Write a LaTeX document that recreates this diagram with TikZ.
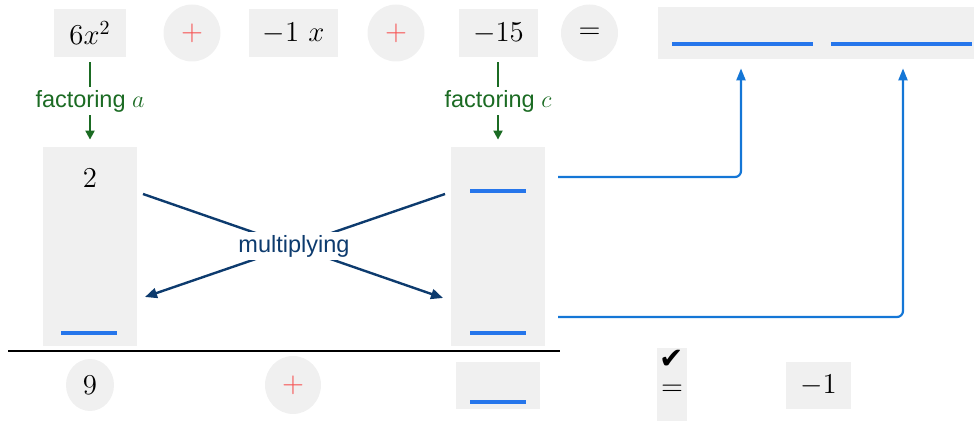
\documentclass[tikz,border=0pt]{standalone}
\usepackage{fontspec}
\setsansfont{Liberation Sans}
\newfontfamily\symfont{DejaVu Sans}
\usetikzlibrary{arrows.meta,shapes.geometric,calc}
\definecolor{boxgray}{RGB}{240,240,240}
\definecolor{plusred}{RGB}{246,82,82}
\definecolor{blankblue}{RGB}{38,118,235}
\definecolor{connblue}{RGB}{20,118,214}
\definecolor{navy}{RGB}{13,59,110}
\definecolor{fgreen}{RGB}{27,107,35}
\begin{document}
\begin{tikzpicture}[x=0.5pt,y=-0.5pt,
  every node/.style={font=\fontsize{14}{16.8}\selectfont, inner sep=0pt},
  gbox/.style={fill=boxgray, draw=none, rectangle},
  gcirc/.style={fill=boxgray, draw=none, circle, minimum size=28.5pt},
  gell/.style={fill=boxgray, draw=none, ellipse},
  blankline/.style={fill=blankblue, draw=none, rectangle, minimum height=1.6pt, minimum width=28pt},
  lbl/.style={font=\sffamily\fontsize{11.75}{14}\selectfont, fill=white, inner xsep=1pt, inner ysep=1.5pt},
  garrow/.style={draw=fgreen, line width=1pt, -{Triangle[length=4.5pt,width=4.5pt]}},
  narrow/.style={draw=navy, line width=1.2pt, -{Triangle[length=6pt,width=5pt]}},
  barrow/.style={draw=connblue, line width=1.1pt, rounded corners=3pt, -{Triangle[length=6pt,width=4.5pt]}}
]
\useasboundingbox (0,0) rectangle (974,421);

% top row
\node[gbox, minimum width=36pt, minimum height=24pt] (t1) at (90,33) {$6x^2$};
\node[gcirc] (p1) at (192,33) {$\color{plusred}+$};
\node[gbox, minimum width=44.5pt, minimum height=24pt] (t2) at (293.5,33) {$-1\ x$};
\node[gcirc] (p2) at (396,33) {$\color{plusred}+$};
\node[gbox, minimum width=39.5pt, minimum height=24pt] (t3) at (498.5,33) {$-15$};
\node[gcirc] (eq) at (589.5,33) {$=$};
\node[gbox, minimum width=158pt, minimum height=26pt] (ans) at (816,33) {};
\node[blankline, minimum width=70.5pt] (ba) at (742.5,44) {};
\node[blankline, minimum width=70.5pt] (bb) at (901.5,44) {};

% factor columns
\node[gbox, minimum width=47pt, minimum height=99.5pt] (L) at (90,246.5) {};
\node[gbox, minimum width=47pt, minimum height=99.5pt] (R) at (498,246.5) {};
\node (two) at (90,178) {$2$};
\node[blankline] (bl1) at (89,333) {};
\node[blankline] (br1) at (498,191) {};
\node[blankline] (br2) at (498,333) {};

% green arrows
\draw[garrow] ([yshift=-2.5pt]t1.south) -- node[lbl, text=fgreen] {factoring $a$} ([yshift=3.5pt]L.north);
\draw[garrow] ([yshift=-2.5pt]t3.south -| R.north) -- node[lbl, text=fgreen] {factoring $c$} ([yshift=3.5pt]R.north);

% multiplying cross
\coordinate (m1s) at (143,194);
\coordinate (m1e) at (443,298);
\coordinate (m2s) at (445,194);
\coordinate (m2e) at (145,297);
\draw[narrow] (m1s) -- (m1e);
\draw[narrow] (m2s) -- (m2e);
\node[lbl, text=navy] (mult) at (294,246) {multiplying};

% blue connectors
\coordinate (c1) at (558,177);
\coordinate (c2) at (558,317);
\draw[barrow] (c1) -| ([yshift=-4.5pt]ans.south -| 741,0);
\draw[barrow] (c2) -| ([yshift=-4.5pt]ans.south -| 903,0);

% rule
\coordinate (r1) at (8,351);
\coordinate (r2) at (560,351);
\draw[line width=1pt] (r1) -- (r2);

% bottom row
\node[gell, minimum width=24pt, minimum height=26pt] (nine) at (90,385) {$9$};
\node[gell, minimum width=28pt, minimum height=29pt] (p3) at (293,385) {$\color{plusred}+$};
\node[gbox, minimum width=42pt, minimum height=23.5pt] (bx) at (498,385.5) {};
\node[blankline] (bx1) at (498,402) {};
\node[gbox, minimum width=15pt, minimum height=36.5pt] (chk) at (672,384.5) {};
\node[anchor=north] (chkeq) at (672,350) {\shortstack{{\symfont\fontsize{14.5}{15}\selectfont ✔}\\[5pt]$=$}};
\node[gbox, minimum width=32.5pt, minimum height=23.5pt] (m1) at (818.5,385.5) {$-1$};
\end{tikzpicture}
\end{document}
